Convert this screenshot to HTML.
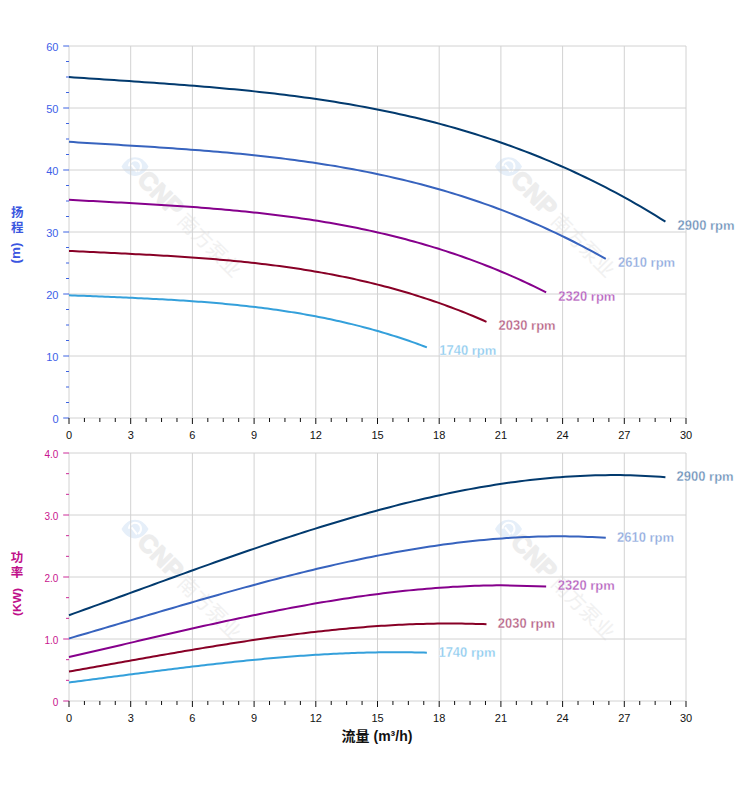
<!DOCTYPE html><html><head><meta charset="utf-8"><title>Pump curves</title><style>
html,body{margin:0;padding:0;background:#fff;}body{width:752px;height:797px;overflow:hidden;position:relative;}
svg{position:absolute;left:0;top:0;}
text{font-family:"Liberation Sans",Arial,"Noto Sans CJK SC",sans-serif;}
.cjk{font-family:"Liberation Sans","Noto Sans CJK SC",sans-serif;}
</style></head><body>
<svg width="752" height="797" viewBox="0 0 752 797">
<g transform="translate(135,166.5)"><path d="M-13.5,0 C-7,-12.5 7,-12.5 13.5,0 C7,12.5 -7,12.5 -13.5,0Z" fill="#e6eff9"/><path d="M-6,-0.3 A6,6 0 1 1 3.2,4.8" fill="none" stroke="#fff" stroke-width="2"/><line x1="-3.5" y1="-1.7" x2="2" y2="5.3" stroke="#fff" stroke-width="2"/><g transform="rotate(45)"><text x="11" y="9.5" font-size="25" font-weight="bold" fill="#ededed" stroke="#ededed" stroke-width="1.4" stroke-linejoin="round">CNP</text><text class="cjk" x="68.5" y="10" font-size="20" fill="#f1f1f1">南方泵业</text></g></g>
<g transform="translate(508.5,166.5)"><path d="M-13.5,0 C-7,-12.5 7,-12.5 13.5,0 C7,12.5 -7,12.5 -13.5,0Z" fill="#e6eff9"/><path d="M-6,-0.3 A6,6 0 1 1 3.2,4.8" fill="none" stroke="#fff" stroke-width="2"/><line x1="-3.5" y1="-1.7" x2="2" y2="5.3" stroke="#fff" stroke-width="2"/><g transform="rotate(45)"><text x="11" y="9.5" font-size="25" font-weight="bold" fill="#ededed" stroke="#ededed" stroke-width="1.4" stroke-linejoin="round">CNP</text><text class="cjk" x="68.5" y="10" font-size="20" fill="#f1f1f1">南方泵业</text></g></g>
<g transform="translate(135,529)"><path d="M-13.5,0 C-7,-12.5 7,-12.5 13.5,0 C7,12.5 -7,12.5 -13.5,0Z" fill="#e6eff9"/><path d="M-6,-0.3 A6,6 0 1 1 3.2,4.8" fill="none" stroke="#fff" stroke-width="2"/><line x1="-3.5" y1="-1.7" x2="2" y2="5.3" stroke="#fff" stroke-width="2"/><g transform="rotate(45)"><text x="11" y="9.5" font-size="25" font-weight="bold" fill="#ededed" stroke="#ededed" stroke-width="1.4" stroke-linejoin="round">CNP</text><text class="cjk" x="68.5" y="10" font-size="20" fill="#f1f1f1">南方泵业</text></g></g>
<g transform="translate(508.5,529)"><path d="M-13.5,0 C-7,-12.5 7,-12.5 13.5,0 C7,12.5 -7,12.5 -13.5,0Z" fill="#e6eff9"/><path d="M-6,-0.3 A6,6 0 1 1 3.2,4.8" fill="none" stroke="#fff" stroke-width="2"/><line x1="-3.5" y1="-1.7" x2="2" y2="5.3" stroke="#fff" stroke-width="2"/><g transform="rotate(45)"><text x="11" y="9.5" font-size="25" font-weight="bold" fill="#ededed" stroke="#ededed" stroke-width="1.4" stroke-linejoin="round">CNP</text><text class="cjk" x="68.5" y="10" font-size="20" fill="#f1f1f1">南方泵业</text></g></g>
<line x1="69.0" y1="46" x2="686.0" y2="46" stroke="#d2d2d2" stroke-width="1"/><line x1="69.0" y1="108" x2="686.0" y2="108" stroke="#d2d2d2" stroke-width="1"/><line x1="69.0" y1="170" x2="686.0" y2="170" stroke="#d2d2d2" stroke-width="1"/><line x1="69.0" y1="232" x2="686.0" y2="232" stroke="#d2d2d2" stroke-width="1"/><line x1="69.0" y1="294" x2="686.0" y2="294" stroke="#d2d2d2" stroke-width="1"/><line x1="69.0" y1="356" x2="686.0" y2="356" stroke="#d2d2d2" stroke-width="1"/><line x1="69.0" y1="418" x2="686.0" y2="418" stroke="#d2d2d2" stroke-width="1"/><line x1="69" y1="46.0" x2="69" y2="418.0" stroke="#d2d2d2" stroke-width="1"/><line x1="130.7" y1="46.0" x2="130.7" y2="418.0" stroke="#d2d2d2" stroke-width="1"/><line x1="192.4" y1="46.0" x2="192.4" y2="418.0" stroke="#d2d2d2" stroke-width="1"/><line x1="254.1" y1="46.0" x2="254.1" y2="418.0" stroke="#d2d2d2" stroke-width="1"/><line x1="315.8" y1="46.0" x2="315.8" y2="418.0" stroke="#d2d2d2" stroke-width="1"/><line x1="377.5" y1="46.0" x2="377.5" y2="418.0" stroke="#d2d2d2" stroke-width="1"/><line x1="439.2" y1="46.0" x2="439.2" y2="418.0" stroke="#d2d2d2" stroke-width="1"/><line x1="500.9" y1="46.0" x2="500.9" y2="418.0" stroke="#d2d2d2" stroke-width="1"/><line x1="562.6" y1="46.0" x2="562.6" y2="418.0" stroke="#d2d2d2" stroke-width="1"/><line x1="624.3" y1="46.0" x2="624.3" y2="418.0" stroke="#d2d2d2" stroke-width="1"/><line x1="686" y1="46.0" x2="686" y2="418.0" stroke="#d2d2d2" stroke-width="1"/><line x1="63.2" y1="46" x2="69.0" y2="46" stroke="#3d63e2" stroke-width="1"/><line x1="66" y1="61.5" x2="69.0" y2="61.5" stroke="#3d63e2" stroke-width="1"/><line x1="66" y1="77" x2="69.0" y2="77" stroke="#3d63e2" stroke-width="1"/><line x1="66" y1="92.5" x2="69.0" y2="92.5" stroke="#3d63e2" stroke-width="1"/><line x1="63.2" y1="108" x2="69.0" y2="108" stroke="#3d63e2" stroke-width="1"/><line x1="66" y1="123.5" x2="69.0" y2="123.5" stroke="#3d63e2" stroke-width="1"/><line x1="66" y1="139" x2="69.0" y2="139" stroke="#3d63e2" stroke-width="1"/><line x1="66" y1="154.5" x2="69.0" y2="154.5" stroke="#3d63e2" stroke-width="1"/><line x1="63.2" y1="170" x2="69.0" y2="170" stroke="#3d63e2" stroke-width="1"/><line x1="66" y1="185.5" x2="69.0" y2="185.5" stroke="#3d63e2" stroke-width="1"/><line x1="66" y1="201" x2="69.0" y2="201" stroke="#3d63e2" stroke-width="1"/><line x1="66" y1="216.5" x2="69.0" y2="216.5" stroke="#3d63e2" stroke-width="1"/><line x1="63.2" y1="232" x2="69.0" y2="232" stroke="#3d63e2" stroke-width="1"/><line x1="66" y1="247.5" x2="69.0" y2="247.5" stroke="#3d63e2" stroke-width="1"/><line x1="66" y1="263" x2="69.0" y2="263" stroke="#3d63e2" stroke-width="1"/><line x1="66" y1="278.5" x2="69.0" y2="278.5" stroke="#3d63e2" stroke-width="1"/><line x1="63.2" y1="294" x2="69.0" y2="294" stroke="#3d63e2" stroke-width="1"/><line x1="66" y1="309.5" x2="69.0" y2="309.5" stroke="#3d63e2" stroke-width="1"/><line x1="66" y1="325" x2="69.0" y2="325" stroke="#3d63e2" stroke-width="1"/><line x1="66" y1="340.5" x2="69.0" y2="340.5" stroke="#3d63e2" stroke-width="1"/><line x1="63.2" y1="356" x2="69.0" y2="356" stroke="#3d63e2" stroke-width="1"/><line x1="66" y1="371.5" x2="69.0" y2="371.5" stroke="#3d63e2" stroke-width="1"/><line x1="66" y1="387" x2="69.0" y2="387" stroke="#3d63e2" stroke-width="1"/><line x1="66" y1="402.5" x2="69.0" y2="402.5" stroke="#3d63e2" stroke-width="1"/><line x1="63.2" y1="418" x2="69.0" y2="418" stroke="#3d63e2" stroke-width="1"/><line x1="69" y1="418.0" x2="69" y2="424.0" stroke="#111" stroke-width="1"/><line x1="84.42" y1="418.0" x2="84.42" y2="422.0" stroke="#111" stroke-width="1"/><line x1="99.85" y1="418.0" x2="99.85" y2="422.0" stroke="#111" stroke-width="1"/><line x1="115.28" y1="418.0" x2="115.28" y2="422.0" stroke="#111" stroke-width="1"/><line x1="130.7" y1="418.0" x2="130.7" y2="424.0" stroke="#111" stroke-width="1"/><line x1="146.12" y1="418.0" x2="146.12" y2="422.0" stroke="#111" stroke-width="1"/><line x1="161.55" y1="418.0" x2="161.55" y2="422.0" stroke="#111" stroke-width="1"/><line x1="176.97" y1="418.0" x2="176.97" y2="422.0" stroke="#111" stroke-width="1"/><line x1="192.4" y1="418.0" x2="192.4" y2="424.0" stroke="#111" stroke-width="1"/><line x1="207.82" y1="418.0" x2="207.82" y2="422.0" stroke="#111" stroke-width="1"/><line x1="223.25" y1="418.0" x2="223.25" y2="422.0" stroke="#111" stroke-width="1"/><line x1="238.68" y1="418.0" x2="238.68" y2="422.0" stroke="#111" stroke-width="1"/><line x1="254.1" y1="418.0" x2="254.1" y2="424.0" stroke="#111" stroke-width="1"/><line x1="269.52" y1="418.0" x2="269.52" y2="422.0" stroke="#111" stroke-width="1"/><line x1="284.95" y1="418.0" x2="284.95" y2="422.0" stroke="#111" stroke-width="1"/><line x1="300.38" y1="418.0" x2="300.38" y2="422.0" stroke="#111" stroke-width="1"/><line x1="315.8" y1="418.0" x2="315.8" y2="424.0" stroke="#111" stroke-width="1"/><line x1="331.23" y1="418.0" x2="331.23" y2="422.0" stroke="#111" stroke-width="1"/><line x1="346.65" y1="418.0" x2="346.65" y2="422.0" stroke="#111" stroke-width="1"/><line x1="362.07" y1="418.0" x2="362.07" y2="422.0" stroke="#111" stroke-width="1"/><line x1="377.5" y1="418.0" x2="377.5" y2="424.0" stroke="#111" stroke-width="1"/><line x1="392.93" y1="418.0" x2="392.93" y2="422.0" stroke="#111" stroke-width="1"/><line x1="408.35" y1="418.0" x2="408.35" y2="422.0" stroke="#111" stroke-width="1"/><line x1="423.77" y1="418.0" x2="423.77" y2="422.0" stroke="#111" stroke-width="1"/><line x1="439.2" y1="418.0" x2="439.2" y2="424.0" stroke="#111" stroke-width="1"/><line x1="454.62" y1="418.0" x2="454.62" y2="422.0" stroke="#111" stroke-width="1"/><line x1="470.05" y1="418.0" x2="470.05" y2="422.0" stroke="#111" stroke-width="1"/><line x1="485.48" y1="418.0" x2="485.48" y2="422.0" stroke="#111" stroke-width="1"/><line x1="500.9" y1="418.0" x2="500.9" y2="424.0" stroke="#111" stroke-width="1"/><line x1="516.33" y1="418.0" x2="516.33" y2="422.0" stroke="#111" stroke-width="1"/><line x1="531.75" y1="418.0" x2="531.75" y2="422.0" stroke="#111" stroke-width="1"/><line x1="547.17" y1="418.0" x2="547.17" y2="422.0" stroke="#111" stroke-width="1"/><line x1="562.6" y1="418.0" x2="562.6" y2="424.0" stroke="#111" stroke-width="1"/><line x1="578.02" y1="418.0" x2="578.02" y2="422.0" stroke="#111" stroke-width="1"/><line x1="593.45" y1="418.0" x2="593.45" y2="422.0" stroke="#111" stroke-width="1"/><line x1="608.88" y1="418.0" x2="608.88" y2="422.0" stroke="#111" stroke-width="1"/><line x1="624.3" y1="418.0" x2="624.3" y2="424.0" stroke="#111" stroke-width="1"/><line x1="639.73" y1="418.0" x2="639.73" y2="422.0" stroke="#111" stroke-width="1"/><line x1="655.15" y1="418.0" x2="655.15" y2="422.0" stroke="#111" stroke-width="1"/><line x1="670.58" y1="418.0" x2="670.58" y2="422.0" stroke="#111" stroke-width="1"/><line x1="686" y1="418.0" x2="686" y2="424.0" stroke="#111" stroke-width="1"/>
<line x1="69.0" y1="453" x2="686.0" y2="453" stroke="#d2d2d2" stroke-width="1"/><line x1="69.0" y1="515" x2="686.0" y2="515" stroke="#d2d2d2" stroke-width="1"/><line x1="69.0" y1="577" x2="686.0" y2="577" stroke="#d2d2d2" stroke-width="1"/><line x1="69.0" y1="639" x2="686.0" y2="639" stroke="#d2d2d2" stroke-width="1"/><line x1="69.0" y1="701" x2="686.0" y2="701" stroke="#d2d2d2" stroke-width="1"/><line x1="69" y1="453.0" x2="69" y2="701.0" stroke="#d2d2d2" stroke-width="1"/><line x1="130.7" y1="453.0" x2="130.7" y2="701.0" stroke="#d2d2d2" stroke-width="1"/><line x1="192.4" y1="453.0" x2="192.4" y2="701.0" stroke="#d2d2d2" stroke-width="1"/><line x1="254.1" y1="453.0" x2="254.1" y2="701.0" stroke="#d2d2d2" stroke-width="1"/><line x1="315.8" y1="453.0" x2="315.8" y2="701.0" stroke="#d2d2d2" stroke-width="1"/><line x1="377.5" y1="453.0" x2="377.5" y2="701.0" stroke="#d2d2d2" stroke-width="1"/><line x1="439.2" y1="453.0" x2="439.2" y2="701.0" stroke="#d2d2d2" stroke-width="1"/><line x1="500.9" y1="453.0" x2="500.9" y2="701.0" stroke="#d2d2d2" stroke-width="1"/><line x1="562.6" y1="453.0" x2="562.6" y2="701.0" stroke="#d2d2d2" stroke-width="1"/><line x1="624.3" y1="453.0" x2="624.3" y2="701.0" stroke="#d2d2d2" stroke-width="1"/><line x1="686" y1="453.0" x2="686" y2="701.0" stroke="#d2d2d2" stroke-width="1"/><line x1="63.2" y1="453" x2="69.0" y2="453" stroke="#cc2a98" stroke-width="1"/><line x1="66" y1="473.67" x2="69.0" y2="473.67" stroke="#cc2a98" stroke-width="1"/><line x1="66" y1="494.33" x2="69.0" y2="494.33" stroke="#cc2a98" stroke-width="1"/><line x1="63.2" y1="515" x2="69.0" y2="515" stroke="#cc2a98" stroke-width="1"/><line x1="66" y1="535.67" x2="69.0" y2="535.67" stroke="#cc2a98" stroke-width="1"/><line x1="66" y1="556.33" x2="69.0" y2="556.33" stroke="#cc2a98" stroke-width="1"/><line x1="63.2" y1="577" x2="69.0" y2="577" stroke="#cc2a98" stroke-width="1"/><line x1="66" y1="597.67" x2="69.0" y2="597.67" stroke="#cc2a98" stroke-width="1"/><line x1="66" y1="618.33" x2="69.0" y2="618.33" stroke="#cc2a98" stroke-width="1"/><line x1="63.2" y1="639" x2="69.0" y2="639" stroke="#cc2a98" stroke-width="1"/><line x1="66" y1="659.67" x2="69.0" y2="659.67" stroke="#cc2a98" stroke-width="1"/><line x1="66" y1="680.33" x2="69.0" y2="680.33" stroke="#cc2a98" stroke-width="1"/><line x1="63.2" y1="701" x2="69.0" y2="701" stroke="#cc2a98" stroke-width="1"/><line x1="69" y1="701.0" x2="69" y2="707.0" stroke="#111" stroke-width="1"/><line x1="84.42" y1="701.0" x2="84.42" y2="705.0" stroke="#111" stroke-width="1"/><line x1="99.85" y1="701.0" x2="99.85" y2="705.0" stroke="#111" stroke-width="1"/><line x1="115.28" y1="701.0" x2="115.28" y2="705.0" stroke="#111" stroke-width="1"/><line x1="130.7" y1="701.0" x2="130.7" y2="707.0" stroke="#111" stroke-width="1"/><line x1="146.12" y1="701.0" x2="146.12" y2="705.0" stroke="#111" stroke-width="1"/><line x1="161.55" y1="701.0" x2="161.55" y2="705.0" stroke="#111" stroke-width="1"/><line x1="176.97" y1="701.0" x2="176.97" y2="705.0" stroke="#111" stroke-width="1"/><line x1="192.4" y1="701.0" x2="192.4" y2="707.0" stroke="#111" stroke-width="1"/><line x1="207.82" y1="701.0" x2="207.82" y2="705.0" stroke="#111" stroke-width="1"/><line x1="223.25" y1="701.0" x2="223.25" y2="705.0" stroke="#111" stroke-width="1"/><line x1="238.68" y1="701.0" x2="238.68" y2="705.0" stroke="#111" stroke-width="1"/><line x1="254.1" y1="701.0" x2="254.1" y2="707.0" stroke="#111" stroke-width="1"/><line x1="269.52" y1="701.0" x2="269.52" y2="705.0" stroke="#111" stroke-width="1"/><line x1="284.95" y1="701.0" x2="284.95" y2="705.0" stroke="#111" stroke-width="1"/><line x1="300.38" y1="701.0" x2="300.38" y2="705.0" stroke="#111" stroke-width="1"/><line x1="315.8" y1="701.0" x2="315.8" y2="707.0" stroke="#111" stroke-width="1"/><line x1="331.23" y1="701.0" x2="331.23" y2="705.0" stroke="#111" stroke-width="1"/><line x1="346.65" y1="701.0" x2="346.65" y2="705.0" stroke="#111" stroke-width="1"/><line x1="362.07" y1="701.0" x2="362.07" y2="705.0" stroke="#111" stroke-width="1"/><line x1="377.5" y1="701.0" x2="377.5" y2="707.0" stroke="#111" stroke-width="1"/><line x1="392.93" y1="701.0" x2="392.93" y2="705.0" stroke="#111" stroke-width="1"/><line x1="408.35" y1="701.0" x2="408.35" y2="705.0" stroke="#111" stroke-width="1"/><line x1="423.77" y1="701.0" x2="423.77" y2="705.0" stroke="#111" stroke-width="1"/><line x1="439.2" y1="701.0" x2="439.2" y2="707.0" stroke="#111" stroke-width="1"/><line x1="454.62" y1="701.0" x2="454.62" y2="705.0" stroke="#111" stroke-width="1"/><line x1="470.05" y1="701.0" x2="470.05" y2="705.0" stroke="#111" stroke-width="1"/><line x1="485.48" y1="701.0" x2="485.48" y2="705.0" stroke="#111" stroke-width="1"/><line x1="500.9" y1="701.0" x2="500.9" y2="707.0" stroke="#111" stroke-width="1"/><line x1="516.33" y1="701.0" x2="516.33" y2="705.0" stroke="#111" stroke-width="1"/><line x1="531.75" y1="701.0" x2="531.75" y2="705.0" stroke="#111" stroke-width="1"/><line x1="547.17" y1="701.0" x2="547.17" y2="705.0" stroke="#111" stroke-width="1"/><line x1="562.6" y1="701.0" x2="562.6" y2="707.0" stroke="#111" stroke-width="1"/><line x1="578.02" y1="701.0" x2="578.02" y2="705.0" stroke="#111" stroke-width="1"/><line x1="593.45" y1="701.0" x2="593.45" y2="705.0" stroke="#111" stroke-width="1"/><line x1="608.88" y1="701.0" x2="608.88" y2="705.0" stroke="#111" stroke-width="1"/><line x1="624.3" y1="701.0" x2="624.3" y2="707.0" stroke="#111" stroke-width="1"/><line x1="639.73" y1="701.0" x2="639.73" y2="705.0" stroke="#111" stroke-width="1"/><line x1="655.15" y1="701.0" x2="655.15" y2="705.0" stroke="#111" stroke-width="1"/><line x1="670.58" y1="701.0" x2="670.58" y2="705.0" stroke="#111" stroke-width="1"/><line x1="686" y1="701.0" x2="686" y2="707.0" stroke="#111" stroke-width="1"/>
<path d="M69,77.03 L74.01,77.38 L79.02,77.73 L84.04,78.07 L89.05,78.41 L94.06,78.75 L99.07,79.09 L104.08,79.43 L109.1,79.77 L114.11,80.11 L119.12,80.44 L124.13,80.78 L129.14,81.12 L134.16,81.46 L139.17,81.81 L144.18,82.15 L149.19,82.5 L154.2,82.86 L159.22,83.21 L164.23,83.58 L169.24,83.94 L174.25,84.31 L179.26,84.69 L184.28,85.08 L189.29,85.47 L194.3,85.87 L199.31,86.27 L204.33,86.69 L209.34,87.11 L214.35,87.54 L219.36,87.98 L224.37,88.44 L229.39,88.9 L234.4,89.37 L239.41,89.85 L244.42,90.35 L249.43,90.86 L254.45,91.38 L259.46,91.92 L264.47,92.47 L269.48,93.03 L274.49,93.61 L279.51,94.2 L284.52,94.81 L289.53,95.43 L294.54,96.07 L299.55,96.73 L304.57,97.4 L309.58,98.1 L314.59,98.81 L319.6,99.54 L324.61,100.29 L329.63,101.05 L334.64,101.84 L339.65,102.65 L344.66,103.48 L349.67,104.34 L354.69,105.21 L359.7,106.11 L364.71,107.03 L369.72,107.97 L374.73,108.94 L379.75,109.93 L384.76,110.95 L389.77,111.99 L394.78,113.06 L399.79,114.15 L404.81,115.27 L409.82,116.42 L414.83,117.59 L419.84,118.79 L424.86,120.03 L429.87,121.29 L434.88,122.58 L439.89,123.9 L444.9,125.24 L449.92,126.63 L454.93,128.04 L459.94,129.48 L464.95,130.96 L469.96,132.47 L474.98,134.01 L479.99,135.58 L485,137.19 L490.01,138.84 L495.02,140.51 L500.04,142.23 L505.05,143.98 L510.06,145.76 L515.07,147.59 L520.08,149.45 L525.1,151.34 L530.11,153.28 L535.12,155.26 L540.13,157.27 L545.14,159.32 L550.16,161.42 L555.17,163.55 L560.18,165.73 L565.19,167.94 L570.2,170.2 L575.22,172.5 L580.23,174.84 L585.24,177.23 L590.25,179.66 L595.26,182.13 L600.28,184.65 L605.29,187.22 L610.3,189.83 L615.31,192.48 L620.32,195.18 L625.34,197.93 L630.35,200.73 L635.36,203.57 L640.37,206.47 L645.39,209.41 L650.4,212.4 L655.41,215.44 L660.42,218.53 L665.43,221.67" fill="none" stroke="#023a6e" stroke-width="2"/>
<path d="M69,615.21 L74.01,613.41 L79.02,611.61 L84.04,609.8 L89.05,607.99 L94.06,606.17 L99.07,604.35 L104.08,602.53 L109.1,600.7 L114.11,598.87 L119.12,597.05 L124.13,595.22 L129.14,593.39 L134.16,591.56 L139.17,589.73 L144.18,587.9 L149.19,586.07 L154.2,584.24 L159.22,582.41 L164.23,580.59 L169.24,578.77 L174.25,576.95 L179.26,575.14 L184.28,573.33 L189.29,571.52 L194.3,569.72 L199.31,567.92 L204.33,566.13 L209.34,564.34 L214.35,562.56 L219.36,560.78 L224.37,559.02 L229.39,557.26 L234.4,555.5 L239.41,553.76 L244.42,552.02 L249.43,550.3 L254.45,548.58 L259.46,546.87 L264.47,545.17 L269.48,543.49 L274.49,541.81 L279.51,540.14 L284.52,538.49 L289.53,536.85 L294.54,535.22 L299.55,533.6 L304.57,532 L309.58,530.41 L314.59,528.83 L319.6,527.27 L324.61,525.73 L329.63,524.2 L334.64,522.68 L339.65,521.18 L344.66,519.7 L349.67,518.23 L354.69,516.79 L359.7,515.35 L364.71,513.94 L369.72,512.55 L374.73,511.17 L379.75,509.81 L384.76,508.48 L389.77,507.16 L394.78,505.86 L399.79,504.59 L404.81,503.33 L409.82,502.1 L414.83,500.89 L419.84,499.7 L424.86,498.54 L429.87,497.4 L434.88,496.28 L439.89,495.18 L444.9,494.11 L449.92,493.07 L454.93,492.05 L459.94,491.05 L464.95,490.08 L469.96,489.14 L474.98,488.23 L479.99,487.34 L485,486.48 L490.01,485.64 L495.02,484.84 L500.04,484.06 L505.05,483.32 L510.06,482.6 L515.07,481.91 L520.08,481.26 L525.1,480.63 L530.11,480.04 L535.12,479.48 L540.13,478.94 L545.14,478.45 L550.16,477.98 L555.17,477.55 L560.18,477.15 L565.19,476.78 L570.2,476.45 L575.22,476.16 L580.23,475.9 L585.24,475.67 L590.25,475.48 L595.26,475.33 L600.28,475.21 L605.29,475.13 L610.3,475.09 L615.31,475.09 L620.32,475.12 L625.34,475.2 L630.35,475.31 L635.36,475.46 L640.37,475.66 L645.39,475.89 L650.4,476.16 L655.41,476.48 L660.42,476.83 L665.43,477.23" fill="none" stroke="#023a6e" stroke-width="2"/>
<path d="M69,141.81 L73.51,142.1 L78.02,142.38 L82.53,142.66 L87.04,142.93 L91.55,143.21 L96.07,143.49 L100.58,143.76 L105.09,144.03 L109.6,144.31 L114.11,144.58 L118.62,144.85 L123.13,145.13 L127.64,145.41 L132.15,145.68 L136.66,145.97 L141.17,146.25 L145.68,146.53 L150.2,146.82 L154.71,147.12 L159.22,147.41 L163.73,147.72 L168.24,148.02 L172.75,148.33 L177.26,148.65 L181.77,148.97 L186.28,149.3 L190.79,149.64 L195.3,149.98 L199.81,150.33 L204.33,150.69 L208.84,151.05 L213.35,151.43 L217.86,151.81 L222.37,152.2 L226.88,152.6 L231.39,153.02 L235.9,153.44 L240.41,153.87 L244.92,154.32 L249.43,154.77 L253.94,155.24 L258.46,155.72 L262.97,156.21 L267.48,156.72 L271.99,157.24 L276.5,157.77 L281.01,158.32 L285.52,158.88 L290.03,159.45 L294.54,160.04 L299.05,160.65 L303.56,161.27 L308.07,161.91 L312.59,162.57 L317.1,163.24 L321.61,163.93 L326.12,164.64 L330.63,165.37 L335.14,166.11 L339.65,166.88 L344.16,167.66 L348.67,168.46 L353.18,169.29 L357.69,170.13 L362.2,171 L366.72,171.88 L371.23,172.79 L375.74,173.72 L380.25,174.67 L384.76,175.64 L389.27,176.64 L393.78,177.66 L398.29,178.71 L402.8,179.78 L407.31,180.87 L411.82,181.99 L416.33,183.13 L420.85,184.3 L425.36,185.5 L429.87,186.72 L434.38,187.97 L438.89,189.24 L443.4,190.55 L447.91,191.88 L452.42,193.24 L456.93,194.62 L461.44,196.04 L465.95,197.49 L470.46,198.97 L474.98,200.47 L479.49,202.01 L484,203.58 L488.51,205.18 L493.02,206.81 L497.53,208.47 L502.04,210.17 L506.55,211.9 L511.06,213.66 L515.57,215.45 L520.08,217.28 L524.59,219.14 L529.11,221.04 L533.62,222.98 L538.13,224.94 L542.64,226.95 L547.15,228.99 L551.66,231.07 L556.17,233.18 L560.68,235.33 L565.19,237.52 L569.7,239.75 L574.21,242.01 L578.72,244.32 L583.24,246.66 L587.75,249.04 L592.26,251.46 L596.77,253.93 L601.28,256.43 L605.79,258.97" fill="none" stroke="#3763be" stroke-width="2"/>
<path d="M69,638.46 L73.51,637.15 L78.02,635.83 L82.53,634.51 L87.04,633.19 L91.55,631.87 L96.07,630.54 L100.58,629.21 L105.09,627.88 L109.6,626.55 L114.11,625.22 L118.62,623.88 L123.13,622.55 L127.64,621.22 L132.15,619.88 L136.66,618.55 L141.17,617.21 L145.68,615.88 L150.2,614.55 L154.71,613.22 L159.22,611.89 L163.73,610.57 L168.24,609.25 L172.75,607.93 L177.26,606.61 L181.77,605.29 L186.28,603.98 L190.79,602.68 L195.3,601.37 L199.81,600.08 L204.33,598.78 L208.84,597.49 L213.35,596.21 L217.86,594.93 L222.37,593.66 L226.88,592.4 L231.39,591.14 L235.9,589.89 L240.41,588.64 L244.92,587.4 L249.43,586.17 L253.94,584.95 L258.46,583.74 L262.97,582.53 L267.48,581.33 L271.99,580.15 L276.5,578.97 L281.01,577.8 L285.52,576.64 L290.03,575.49 L294.54,574.35 L299.05,573.23 L303.56,572.11 L308.07,571.01 L312.59,569.91 L317.1,568.83 L321.61,567.76 L326.12,566.71 L330.63,565.66 L335.14,564.63 L339.65,563.62 L344.16,562.61 L348.67,561.63 L353.18,560.65 L357.69,559.69 L362.2,558.75 L366.72,557.82 L371.23,556.9 L375.74,556 L380.25,555.12 L384.76,554.25 L389.27,553.41 L393.78,552.57 L398.29,551.76 L402.8,550.96 L407.31,550.18 L411.82,549.42 L416.33,548.67 L420.85,547.95 L425.36,547.24 L429.87,546.55 L434.38,545.89 L438.89,545.24 L443.4,544.61 L447.91,544.01 L452.42,543.42 L456.93,542.85 L461.44,542.31 L465.95,541.79 L470.46,541.29 L474.98,540.81 L479.49,540.35 L484,539.92 L488.51,539.51 L493.02,539.12 L497.53,538.76 L502.04,538.42 L506.55,538.1 L511.06,537.81 L515.57,537.55 L520.08,537.31 L524.59,537.09 L529.11,536.9 L533.62,536.74 L538.13,536.6 L542.64,536.49 L547.15,536.4 L551.66,536.34 L556.17,536.31 L560.68,536.31 L565.19,536.34 L569.7,536.39 L574.21,536.47 L578.72,536.58 L583.24,536.72 L587.75,536.89 L592.26,537.09 L596.77,537.32 L601.28,537.58 L605.79,537.87" fill="none" stroke="#3763be" stroke-width="2"/>
<path d="M69,199.78 L73.01,200 L77.02,200.22 L81.03,200.45 L85.04,200.66 L89.05,200.88 L93.06,201.1 L97.07,201.32 L101.08,201.53 L105.09,201.75 L109.1,201.96 L113.11,202.18 L117.12,202.4 L121.13,202.62 L125.13,202.84 L129.14,203.06 L133.15,203.28 L137.16,203.51 L141.17,203.74 L145.18,203.97 L149.19,204.2 L153.2,204.44 L157.21,204.68 L161.22,204.93 L165.23,205.18 L169.24,205.43 L173.25,205.69 L177.26,205.96 L181.27,206.23 L185.28,206.51 L189.29,206.79 L193.3,207.08 L197.31,207.37 L201.32,207.68 L205.33,207.99 L209.34,208.3 L213.35,208.63 L217.36,208.96 L221.37,209.31 L225.38,209.66 L229.39,210.02 L233.4,210.39 L237.4,210.77 L241.41,211.16 L245.42,211.56 L249.43,211.96 L253.44,212.39 L257.45,212.82 L261.46,213.26 L265.47,213.72 L269.48,214.18 L273.49,214.66 L277.5,215.16 L281.51,215.66 L285.52,216.18 L289.53,216.71 L293.54,217.26 L297.55,217.82 L301.56,218.39 L305.57,218.98 L309.58,219.58 L313.59,220.2 L317.6,220.84 L321.61,221.49 L325.62,222.15 L329.63,222.84 L333.64,223.54 L337.65,224.25 L341.66,224.99 L345.66,225.74 L349.67,226.51 L353.68,227.3 L357.69,228.1 L361.7,228.93 L365.71,229.77 L369.72,230.64 L373.73,231.52 L377.74,232.42 L381.75,233.35 L385.76,234.29 L389.77,235.26 L393.78,236.24 L397.79,237.25 L401.8,238.28 L405.81,239.33 L409.82,240.41 L413.83,241.51 L417.84,242.63 L421.85,243.77 L425.86,244.94 L429.87,246.13 L433.88,247.34 L437.89,248.58 L441.9,249.84 L445.91,251.13 L449.92,252.45 L453.93,253.79 L457.93,255.15 L461.94,256.54 L465.95,257.96 L469.96,259.41 L473.97,260.88 L477.98,262.38 L481.99,263.91 L486,265.46 L490.01,267.05 L494.02,268.66 L498.03,270.3 L502.04,271.97 L506.05,273.67 L510.06,275.4 L514.07,277.16 L518.08,278.95 L522.09,280.77 L526.1,282.62 L530.11,284.5 L534.12,286.42 L538.13,288.36 L542.14,290.34 L546.15,292.35" fill="none" stroke="#86008c" stroke-width="2"/>
<path d="M69,657.08 L73.36,656.07 L77.73,655.07 L82.09,654.06 L86.45,653.05 L90.81,652.04 L95.18,651.02 L99.54,650.01 L103.9,648.99 L108.26,647.97 L112.63,646.95 L116.99,645.93 L121.35,644.91 L125.71,643.89 L130.08,642.87 L134.44,641.85 L138.8,640.84 L143.16,639.82 L147.53,638.81 L151.89,637.79 L156.25,636.78 L160.62,635.77 L164.98,634.76 L169.34,633.76 L173.7,632.76 L178.07,631.76 L182.43,630.77 L186.79,629.77 L191.15,628.79 L195.52,627.81 L199.88,626.83 L204.24,625.85 L208.6,624.89 L212.97,623.92 L217.33,622.97 L221.69,622.02 L226.05,621.07 L230.42,620.13 L234.78,619.2 L239.14,618.27 L243.51,617.36 L247.87,616.45 L252.23,615.54 L256.59,614.65 L260.96,613.76 L265.32,612.88 L269.68,612.01 L274.04,611.15 L278.41,610.3 L282.77,609.46 L287.13,608.63 L291.49,607.81 L295.86,606.99 L300.22,606.19 L304.58,605.4 L308.94,604.62 L313.31,603.86 L317.67,603.1 L322.03,602.36 L326.39,601.62 L330.76,600.91 L335.12,600.2 L339.48,599.5 L343.85,598.82 L348.21,598.16 L352.57,597.5 L356.93,596.86 L361.3,596.24 L365.66,595.63 L370.02,595.03 L374.38,594.45 L378.75,593.89 L383.11,593.34 L387.47,592.8 L391.83,592.29 L396.2,591.78 L400.56,591.3 L404.92,590.83 L409.28,590.38 L413.65,589.95 L418.01,589.53 L422.37,589.13 L426.74,588.75 L431.1,588.39 L435.46,588.05 L439.82,587.73 L444.19,587.42 L448.55,587.14 L452.91,586.87 L457.27,586.63 L461.64,586.4 L466,586.2 L470.36,586.02 L474.72,585.85 L479.09,585.71 L483.45,585.59 L487.81,585.5 L492.17,585.42 L496.54,585.37 L500.9,585.34 L546.15,586.43" fill="none" stroke="#86008c" stroke-width="2"/>
<path d="M69,250.92 L72.51,251.1 L76.02,251.27 L79.53,251.43 L83.03,251.6 L86.54,251.77 L90.05,251.94 L93.56,252.1 L97.07,252.27 L100.58,252.43 L104.08,252.6 L107.59,252.76 L111.1,252.93 L114.61,253.1 L118.12,253.27 L121.63,253.44 L125.13,253.61 L128.64,253.78 L132.15,253.96 L135.66,254.13 L139.17,254.31 L142.68,254.49 L146.19,254.68 L149.69,254.87 L153.2,255.06 L156.71,255.25 L160.22,255.45 L163.73,255.66 L167.24,255.86 L170.74,256.08 L174.25,256.29 L177.76,256.51 L181.27,256.74 L184.78,256.97 L188.29,257.21 L191.8,257.45 L195.3,257.7 L198.81,257.96 L202.32,258.22 L205.83,258.49 L209.34,258.76 L212.85,259.05 L216.35,259.34 L219.86,259.63 L223.37,259.94 L226.88,260.25 L230.39,260.58 L233.9,260.91 L237.4,261.25 L240.91,261.6 L244.42,261.95 L247.93,262.32 L251.44,262.7 L254.95,263.08 L258.46,263.48 L261.96,263.89 L265.47,264.31 L268.98,264.73 L272.49,265.17 L276,265.62 L279.51,266.09 L283.01,266.56 L286.52,267.05 L290.03,267.54 L293.54,268.05 L297.05,268.58 L300.56,269.11 L304.06,269.66 L307.57,270.22 L311.08,270.8 L314.59,271.39 L318.1,271.99 L321.61,272.61 L325.12,273.24 L328.62,273.89 L332.13,274.55 L335.64,275.23 L339.15,275.92 L342.66,276.63 L346.17,277.35 L349.67,278.09 L353.18,278.84 L356.69,279.62 L360.2,280.4 L363.71,281.21 L367.22,282.03 L370.73,282.87 L374.23,283.73 L377.74,284.6 L381.25,285.5 L384.76,286.41 L388.27,287.34 L391.78,288.29 L395.28,289.26 L398.79,290.24 L402.3,291.25 L405.81,292.27 L409.32,293.32 L412.83,294.39 L416.33,295.47 L419.84,296.58 L423.35,297.7 L426.86,298.85 L430.37,300.02 L433.88,301.21 L437.39,302.43 L440.89,303.66 L444.4,304.92 L447.91,306.2 L451.42,307.5 L454.93,308.82 L458.44,310.17 L461.94,311.54 L465.45,312.93 L468.96,314.35 L472.47,315.79 L475.98,317.26 L479.49,318.75 L482.99,320.26 L486.5,321.8" fill="none" stroke="#880026" stroke-width="2"/>
<path d="M69,671.58 L72.51,670.96 L76.02,670.34 L79.53,669.72 L83.03,669.1 L86.54,668.47 L90.05,667.85 L93.56,667.22 L97.07,666.6 L100.58,665.97 L104.08,665.34 L107.59,664.72 L111.1,664.09 L114.61,663.46 L118.12,662.83 L121.63,662.21 L125.13,661.58 L128.64,660.95 L132.15,660.33 L135.66,659.7 L139.17,659.08 L142.68,658.45 L146.19,657.83 L149.69,657.21 L153.2,656.59 L156.71,655.97 L160.22,655.35 L163.73,654.74 L167.24,654.13 L170.74,653.51 L174.25,652.91 L177.76,652.3 L181.27,651.7 L184.78,651.09 L188.29,650.5 L191.8,649.9 L195.3,649.31 L198.81,648.72 L202.32,648.13 L205.83,647.55 L209.34,646.97 L212.85,646.4 L216.35,645.83 L219.86,645.26 L223.37,644.7 L226.88,644.14 L230.39,643.58 L233.9,643.03 L237.4,642.49 L240.91,641.95 L244.42,641.41 L247.93,640.88 L251.44,640.36 L254.95,639.84 L258.46,639.32 L261.96,638.81 L265.47,638.31 L268.98,637.81 L272.49,637.32 L276,636.84 L279.51,636.36 L283.01,635.89 L286.52,635.42 L290.03,634.96 L293.54,634.51 L297.05,634.07 L300.56,633.63 L304.06,633.2 L307.57,632.78 L311.08,632.36 L314.59,631.96 L318.1,631.56 L321.61,631.16 L325.12,630.78 L328.62,630.4 L332.13,630.04 L335.64,629.68 L339.15,629.33 L342.66,628.99 L346.17,628.66 L349.67,628.33 L353.18,628.02 L356.69,627.71 L360.2,627.42 L363.71,627.13 L367.22,626.86 L370.73,626.59 L374.23,626.33 L377.74,626.09 L381.25,625.85 L384.76,625.63 L388.27,625.41 L391.78,625.21 L395.28,625.02 L398.79,624.83 L402.3,624.66 L405.81,624.5 L409.32,624.36 L412.83,624.22 L416.33,624.09 L419.84,623.98 L423.35,623.88 L426.86,623.79 L430.37,623.71 L433.88,623.65 L437.39,623.6 L440.89,623.56 L444.4,623.53 L447.91,623.51 L451.42,623.51 L454.93,623.52 L458.44,623.55 L461.94,623.59 L465.45,623.64 L468.96,623.71 L472.47,623.79 L475.98,623.88 L479.49,623.99 L482.99,624.11 L486.5,624.25" fill="none" stroke="#880026" stroke-width="2"/>
<path d="M69,295.25 L72.01,295.38 L75.01,295.5 L78.02,295.63 L81.03,295.75 L84.04,295.87 L87.04,295.99 L90.05,296.12 L93.06,296.24 L96.07,296.36 L99.07,296.48 L102.08,296.6 L105.09,296.72 L108.09,296.85 L111.1,296.97 L114.11,297.1 L117.12,297.22 L120.12,297.35 L123.13,297.48 L126.14,297.61 L129.14,297.74 L132.15,297.87 L135.16,298.01 L138.17,298.15 L141.17,298.29 L144.18,298.43 L147.19,298.58 L150.2,298.73 L153.2,298.88 L156.21,299.04 L159.22,299.19 L162.22,299.36 L165.23,299.52 L168.24,299.69 L171.25,299.87 L174.25,300.05 L177.26,300.23 L180.27,300.42 L183.27,300.61 L186.28,300.81 L189.29,301.01 L192.3,301.22 L195.3,301.43 L198.31,301.65 L201.32,301.87 L204.33,302.11 L207.33,302.34 L210.34,302.58 L213.35,302.83 L216.35,303.09 L219.36,303.35 L222.37,303.62 L225.38,303.9 L228.38,304.18 L231.39,304.48 L234.4,304.77 L237.4,305.08 L240.41,305.4 L243.42,305.72 L246.43,306.05 L249.43,306.39 L252.44,306.74 L255.45,307.09 L258.46,307.46 L261.46,307.84 L264.47,308.22 L267.48,308.61 L270.48,309.02 L273.49,309.43 L276.5,309.85 L279.51,310.29 L282.51,310.73 L285.52,311.18 L288.53,311.65 L291.53,312.12 L294.54,312.61 L297.55,313.11 L300.56,313.61 L303.56,314.13 L306.57,314.66 L309.58,315.21 L312.59,315.76 L315.59,316.33 L318.6,316.91 L321.61,317.5 L324.61,318.1 L327.62,318.72 L330.63,319.35 L333.64,319.99 L336.64,320.65 L339.65,321.32 L342.66,322 L345.66,322.7 L348.67,323.41 L351.68,324.14 L354.69,324.88 L357.69,325.63 L360.7,326.4 L363.71,327.18 L366.72,327.98 L369.72,328.79 L372.73,329.62 L375.74,330.46 L378.74,331.32 L381.75,332.2 L384.76,333.09 L387.77,334 L390.77,334.92 L393.78,335.86 L396.79,336.81 L399.79,337.79 L402.8,338.78 L405.81,339.78 L408.82,340.81 L411.82,341.85 L414.83,342.91 L417.84,343.98 L420.85,345.08 L423.85,346.19 L426.86,347.32" fill="none" stroke="#34a0db" stroke-width="2"/>
<path d="M69,682.47 L72.01,682.08 L75.01,681.69 L78.02,681.3 L81.03,680.91 L84.04,680.52 L87.04,680.12 L90.05,679.73 L93.06,679.34 L96.07,678.94 L99.07,678.55 L102.08,678.15 L105.09,677.76 L108.09,677.36 L111.1,676.96 L114.11,676.57 L117.12,676.17 L120.12,675.78 L123.13,675.39 L126.14,674.99 L129.14,674.6 L132.15,674.21 L135.16,673.81 L138.17,673.42 L141.17,673.03 L144.18,672.64 L147.19,672.25 L150.2,671.87 L153.2,671.48 L156.21,671.1 L159.22,670.71 L162.22,670.33 L165.23,669.95 L168.24,669.57 L171.25,669.2 L174.25,668.82 L177.26,668.45 L180.27,668.08 L183.27,667.71 L186.28,667.34 L189.29,666.98 L192.3,666.61 L195.3,666.26 L198.31,665.9 L201.32,665.54 L204.33,665.19 L207.33,664.84 L210.34,664.5 L213.35,664.15 L216.35,663.81 L219.36,663.48 L222.37,663.14 L225.38,662.81 L228.38,662.48 L231.39,662.16 L234.4,661.84 L237.4,661.52 L240.41,661.21 L243.42,660.9 L246.43,660.6 L249.43,660.29 L252.44,660 L255.45,659.7 L258.46,659.42 L261.46,659.13 L264.47,658.85 L267.48,658.58 L270.48,658.3 L273.49,658.04 L276.5,657.78 L279.51,657.52 L282.51,657.27 L285.52,657.02 L288.53,656.78 L291.53,656.54 L294.54,656.31 L297.55,656.09 L300.56,655.87 L303.56,655.65 L306.57,655.44 L309.58,655.24 L312.59,655.04 L315.59,654.85 L318.6,654.66 L321.61,654.48 L324.61,654.31 L327.62,654.14 L330.63,653.98 L333.64,653.83 L336.64,653.68 L339.65,653.54 L342.66,653.4 L345.66,653.27 L348.67,653.15 L351.68,653.04 L354.69,652.93 L357.69,652.83 L360.7,652.73 L363.71,652.65 L366.72,652.57 L369.72,652.5 L372.73,652.43 L375.74,652.38 L378.74,652.33 L381.75,652.29 L384.76,652.26 L387.77,652.23 L390.77,652.21 L393.78,652.2 L396.79,652.2 L399.79,652.21 L402.8,652.23 L405.81,652.25 L408.82,652.28 L411.82,652.33 L414.83,652.38 L417.84,652.43 L420.85,652.5 L423.85,652.58 L426.86,652.67" fill="none" stroke="#34a0db" stroke-width="2"/>
<text transform="translate(677.46,230) scale(1,1.1)" font-size="13" font-weight="bold" stroke="#fff" stroke-width="0.3" fill="#6c90b8">2900</text><text x="709.99" y="230" font-size="13" font-weight="bold" stroke="#fff" stroke-width="0.3" fill="#6c90b8">rpm</text>
<text transform="translate(676.56,481.2) scale(1,1.1)" font-size="13" font-weight="bold" stroke="#fff" stroke-width="0.3" fill="#6c90b8">2900</text><text x="709.09" y="481.2" font-size="13" font-weight="bold" stroke="#fff" stroke-width="0.3" fill="#6c90b8">rpm</text>
<text transform="translate(618.06,266.8) scale(1,1.1)" font-size="13" font-weight="bold" stroke="#fff" stroke-width="0.3" fill="#8ea9dd">2610</text><text x="650.59" y="266.8" font-size="13" font-weight="bold" stroke="#fff" stroke-width="0.3" fill="#8ea9dd">rpm</text>
<text transform="translate(616.96,542) scale(1,1.1)" font-size="13" font-weight="bold" stroke="#fff" stroke-width="0.3" fill="#8ea9dd">2610</text><text x="649.49" y="542" font-size="13" font-weight="bold" stroke="#fff" stroke-width="0.3" fill="#8ea9dd">rpm</text>
<text transform="translate(558.31,300.8) scale(1,1.1)" font-size="13" font-weight="bold" stroke="#fff" stroke-width="0.3" fill="#b460bd">2320</text><text x="590.84" y="300.8" font-size="13" font-weight="bold" stroke="#fff" stroke-width="0.3" fill="#b460bd">rpm</text>
<text transform="translate(557.76,590.3) scale(1,1.1)" font-size="13" font-weight="bold" stroke="#fff" stroke-width="0.3" fill="#b460bd">2320</text><text x="590.29" y="590.3" font-size="13" font-weight="bold" stroke="#fff" stroke-width="0.3" fill="#b460bd">rpm</text>
<text transform="translate(498.56,329.5) scale(1,1.1)" font-size="13" font-weight="bold" stroke="#fff" stroke-width="0.3" fill="#b45e82">2030</text><text x="531.09" y="329.5" font-size="13" font-weight="bold" stroke="#fff" stroke-width="0.3" fill="#b45e82">rpm</text>
<text transform="translate(497.86,628) scale(1,1.1)" font-size="13" font-weight="bold" stroke="#fff" stroke-width="0.3" fill="#b45e82">2030</text><text x="530.39" y="628" font-size="13" font-weight="bold" stroke="#fff" stroke-width="0.3" fill="#b45e82">rpm</text>
<text transform="translate(439.2,355) scale(1,1.1)" font-size="13" font-weight="bold" stroke="#fff" stroke-width="0.3" fill="#8ccaee">1740</text><text x="471.73" y="355" font-size="13" font-weight="bold" stroke="#fff" stroke-width="0.3" fill="#8ccaee">rpm</text>
<text transform="translate(438.4,657) scale(1,1.1)" font-size="13" font-weight="bold" stroke="#fff" stroke-width="0.3" fill="#8ccaee">1740</text><text x="470.93" y="657" font-size="13" font-weight="bold" stroke="#fff" stroke-width="0.3" fill="#8ccaee">rpm</text>
<text x="58.5" y="50.5" font-size="11" fill="#3d5ee8" text-anchor="end">60</text>
<text x="58.5" y="112.5" font-size="11" fill="#3d5ee8" text-anchor="end">50</text>
<text x="58.5" y="174.5" font-size="11" fill="#3d5ee8" text-anchor="end">40</text>
<text x="58.5" y="236.5" font-size="11" fill="#3d5ee8" text-anchor="end">30</text>
<text x="58.5" y="298.5" font-size="11" fill="#3d5ee8" text-anchor="end">20</text>
<text x="58.5" y="360.5" font-size="11" fill="#3d5ee8" text-anchor="end">10</text>
<text x="58.5" y="422.5" font-size="11" fill="#3d5ee8" text-anchor="end">0</text>
<text x="58.4" y="458.1" font-size="10" fill="#c8148e" text-anchor="end">4.0</text>
<text x="58.4" y="520.1" font-size="10" fill="#c8148e" text-anchor="end">3.0</text>
<text x="58.4" y="582.1" font-size="10" fill="#c8148e" text-anchor="end">2.0</text>
<text x="58.4" y="644.1" font-size="10" fill="#c8148e" text-anchor="end">1.0</text>
<text x="58.4" y="706.1" font-size="10" fill="#c8148e" text-anchor="end">0</text>
<text x="69" y="439" font-size="11" fill="#111" text-anchor="middle">0</text>
<text x="69" y="722" font-size="11" fill="#111" text-anchor="middle">0</text>
<text x="130.7" y="439" font-size="11" fill="#111" text-anchor="middle">3</text>
<text x="130.7" y="722" font-size="11" fill="#111" text-anchor="middle">3</text>
<text x="192.4" y="439" font-size="11" fill="#111" text-anchor="middle">6</text>
<text x="192.4" y="722" font-size="11" fill="#111" text-anchor="middle">6</text>
<text x="254.1" y="439" font-size="11" fill="#111" text-anchor="middle">9</text>
<text x="254.1" y="722" font-size="11" fill="#111" text-anchor="middle">9</text>
<text x="315.8" y="439" font-size="11" fill="#111" text-anchor="middle">12</text>
<text x="315.8" y="722" font-size="11" fill="#111" text-anchor="middle">12</text>
<text x="377.5" y="439" font-size="11" fill="#111" text-anchor="middle">15</text>
<text x="377.5" y="722" font-size="11" fill="#111" text-anchor="middle">15</text>
<text x="439.2" y="439" font-size="11" fill="#111" text-anchor="middle">18</text>
<text x="439.2" y="722" font-size="11" fill="#111" text-anchor="middle">18</text>
<text x="500.9" y="439" font-size="11" fill="#111" text-anchor="middle">21</text>
<text x="500.9" y="722" font-size="11" fill="#111" text-anchor="middle">21</text>
<text x="562.6" y="439" font-size="11" fill="#111" text-anchor="middle">24</text>
<text x="562.6" y="722" font-size="11" fill="#111" text-anchor="middle">24</text>
<text x="624.3" y="439" font-size="11" fill="#111" text-anchor="middle">27</text>
<text x="624.3" y="722" font-size="11" fill="#111" text-anchor="middle">27</text>
<text x="686" y="439" font-size="11" fill="#111" text-anchor="middle">30</text>
<text x="686" y="722" font-size="11" fill="#111" text-anchor="middle">30</text>
<text x="377" y="741" font-size="14" font-weight="bold" fill="#111" text-anchor="middle"><tspan class="cjk" font-weight="600">流量</tspan> (m³/h)</text>
<text class="cjk" x="17.2" y="216.8" font-size="12.5" font-weight="700" fill="#3a56e0" text-anchor="middle">扬</text><text class="cjk" x="17.2" y="231.8" font-size="12.5" font-weight="700" fill="#3a56e0" text-anchor="middle">程</text><text x="0" y="0" font-size="13.5" font-weight="bold" fill="#3a56e0" text-anchor="middle" transform="translate(15.7,252.9) rotate(-90) scale(1,1.0)" dy="4.3">(m)</text>
<text class="cjk" x="17.0" y="562" font-size="12.5" font-weight="700" fill="#c0108a" text-anchor="middle">功</text><text class="cjk" x="17.0" y="577" font-size="12.5" font-weight="700" fill="#c0108a" text-anchor="middle">率</text><text x="0" y="0" font-size="12" font-weight="bold" fill="#c0108a" text-anchor="middle" transform="translate(16.8,602) rotate(-90) scale(1,0.92)" dy="4.3">(KW)</text>
</svg></body></html>
